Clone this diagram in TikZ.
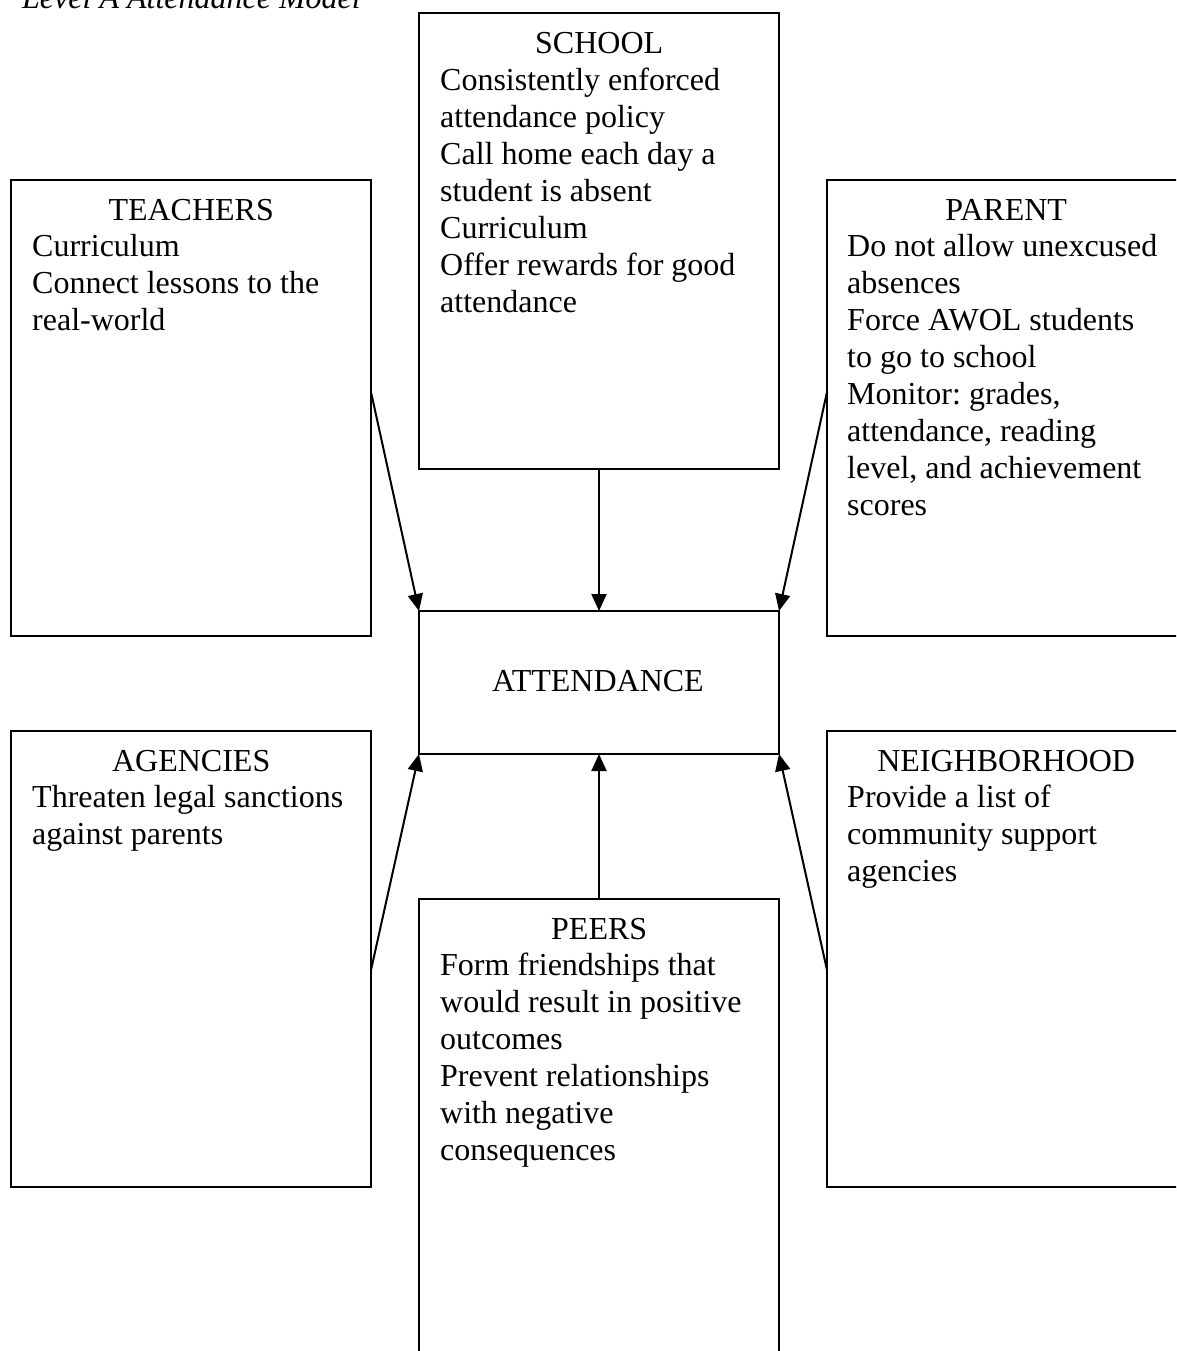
\documentclass[tikz,border=0pt]{standalone}
\usepackage{fontspec}
\setmainfont{Liberation Serif}
\usetikzlibrary{arrows.meta}
\begin{document}
\frenchspacing
\begin{tikzpicture}[x=1pt,y=-1pt,
  box/.style={draw,line width=2pt,minimum width=360pt,minimum height=456pt,anchor=north west,inner sep=0pt,outer sep=0pt},
  txt/.style={anchor=base west,inner sep=0pt,align=flush left,text width=318pt,font=\fontsize{32}{36.9}\selectfont\frenchspacing},
  arr/.style={line width=2pt,-{Triangle[length=17pt,width=15pt]}}
]
\useasboundingbox (0,0) rectangle (1176,1351);
\clip (0,0) rectangle (1176,1351);
\node[anchor=base west,inner sep=0pt,font=\fontsize{32}{36.9}\selectfont\itshape] (title) at (22,9) {Level A Attendance Model};

\node[box] (school) at (419,13) {};
\node[box] (teachers) at (11,180) {};
\node[box] (parent) at (827,180) {};
\node[box,minimum height=143pt] (att) at (419,611) {};
\node[box] (agencies) at (11,731) {};
\node[box] (neigh) at (827,731) {};
\node[box] (peers) at (419,899) {};

\node[txt] (schoolt) at (440,54) {\makebox[318pt]{SCHOOL}\\Consistently enforced\\attendance policy\\Call home each day a\\student is absent\\Curriculum\\Offer rewards for good\\attendance};
\node[txt] (teacherst) at (32,220) {\makebox[318pt]{TEACHERS}\\Curriculum\\Connect lessons to the\\real-world};
\node[txt] (parentt) at (847,220) {\makebox[318pt]{PARENT}\\Do not allow unexcused\\absences\\Force AWOL students\\to go to school\\Monitor: grades,\\attendance, reading\\level, and achievement\\scores};
\node[inner sep=0pt,font=\fontsize{32}{36.9}\selectfont] (attt) at (598,681) {ATTENDANCE};
\node[txt] (agenciest) at (32,771) {\makebox[318pt]{AGENCIES}\\Threaten legal sanctions\\against parents};
\node[txt] (neight) at (847,771) {\makebox[318pt]{NEIGHBORHOOD}\\Provide a list of\\community support\\agencies};
\node[txt] (peerst) at (440,939) {\makebox[318pt]{PEERS}\\Form friendships that\\would result in positive\\outcomes\\Prevent relationships\\with negative\\consequences};

\path (teachers.north east) ++(0,212) coordinate (tout);
\path (parent.north west) ++(0,212) coordinate (pout);
\path (agencies.north east) ++(0,239) coordinate (aout);
\path (neigh.north west) ++(0,239) coordinate (nout);

\draw[arr] (school.south) -- (att.north);
\draw[arr] (tout) -- (att.north west);
\draw[arr] (pout) -- (att.north east);
\draw[arr] (peers.north) -- (att.south);
\draw[arr] (aout) -- (att.south west);
\draw[arr] (nout) -- (att.south east);
\end{tikzpicture}
\end{document}
